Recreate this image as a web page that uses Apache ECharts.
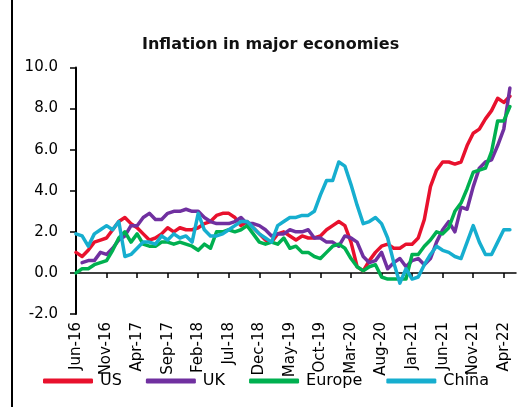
<!DOCTYPE html>
<html>
<head>
<meta charset="utf-8">
<script src="https://cdn.jsdelivr.net/npm/echarts@6/dist/echarts.min.js"></script>
<style>
  html, body { margin: 0; padding: 0; background: #ffffff; }
  #chart { width: 523px; height: 407px; }
</style>
</head>
<body>
<div id="chart"></div>
<script>
// Monthly categories (one spare month at the end so the axis runs slightly past the last point)
const months = [
  'Jun-16','Jul-16','Aug-16','Sep-16','Oct-16','Nov-16','Dec-16',
  'Jan-17','Feb-17','Mar-17','Apr-17','May-17','Jun-17','Jul-17','Aug-17','Sep-17','Oct-17','Nov-17','Dec-17',
  'Jan-18','Feb-18','Mar-18','Apr-18','May-18','Jun-18','Jul-18','Aug-18','Sep-18','Oct-18','Nov-18','Dec-18',
  'Jan-19','Feb-19','Mar-19','Apr-19','May-19','Jun-19','Jul-19','Aug-19','Sep-19','Oct-19','Nov-19','Dec-19',
  'Jan-20','Feb-20','Mar-20','Apr-20','May-20','Jun-20','Jul-20','Aug-20','Sep-20','Oct-20','Nov-20','Dec-20',
  'Jan-21','Feb-21','Mar-21','Apr-21','May-21','Jun-21','Jul-21','Aug-21','Sep-21','Oct-21','Nov-21','Dec-21',
  'Jan-22','Feb-22','Mar-22','Apr-22','May-22','Jun-22'
];

// Consumer price inflation, % y/y
const usInflation = [
  1.0, 0.8, 1.1, 1.5, 1.6, 1.7, 2.1,
  2.5, 2.7, 2.4, 2.2, 1.9, 1.6, 1.7, 1.9, 2.2, 2.0, 2.2, 2.1,
  2.1, 2.2, 2.4, 2.5, 2.8, 2.9, 2.9, 2.7, 2.3, 2.5, 2.2, 1.9,
  1.6, 1.5, 1.9, 2.0, 1.8, 1.6, 1.8, 1.7, 1.7, 1.8, 2.1, 2.3,
  2.5, 2.3, 1.5, 0.3, 0.1, 0.6, 1.0, 1.3, 1.4, 1.2, 1.2, 1.4,
  1.4, 1.7, 2.6, 4.2, 5.0, 5.4, 5.4, 5.3, 5.4, 6.2, 6.8, 7.0,
  7.5, 7.9, 8.5, 8.3, 8.6
];

const ukInflation = [
  null, 0.5, 0.6, 0.6, 1.0, 0.9, 1.2,
  1.6, 1.8, 2.3, 2.3, 2.7, 2.9, 2.6, 2.6, 2.9, 3.0, 3.0, 3.1,
  3.0, 3.0, 2.7, 2.5, 2.4, 2.4, 2.4, 2.5, 2.7, 2.4, 2.4, 2.3,
  2.1, 1.8, 1.9, 1.9, 2.1, 2.0, 2.0, 2.1, 1.7, 1.7, 1.5, 1.5,
  1.3, 1.8, 1.7, 1.5, 0.8, 0.5, 0.6, 1.0, 0.2, 0.5, 0.7, 0.3,
  0.6, 0.7, 0.4, 0.7, 1.5, 2.1, 2.5, 2.0, 3.2, 3.1, 4.2, 5.1,
  5.4, 5.5, 6.2, 7.0, 9.0
];

const europeInflation = [
  0.0, 0.2, 0.2, 0.4, 0.5, 0.6, 1.1,
  1.7, 2.0, 1.5, 1.9, 1.4, 1.3, 1.3, 1.5, 1.5, 1.4, 1.5, 1.4,
  1.3, 1.1, 1.4, 1.2, 2.0, 2.0, 2.1, 2.0, 2.1, 2.3, 1.9, 1.5,
  1.4, 1.5, 1.4, 1.7, 1.2, 1.3, 1.0, 1.0, 0.8, 0.7, 1.0, 1.3,
  1.4, 1.2, 0.7, 0.3, 0.1, 0.3, 0.4, -0.2, -0.3, -0.3, -0.3, -0.3,
  0.9, 0.9, 1.3, 1.6, 2.0, 1.9, 2.2, 3.0, 3.4, 4.1, 4.9, 5.0,
  5.1, 5.9, 7.4, 7.4, 8.1
];

const chinaInflation = [
  1.9, 1.8, 1.3, 1.9, 2.1, 2.3, 2.1,
  2.5, 0.8, 0.9, 1.2, 1.5, 1.5, 1.4, 1.8, 1.6, 1.9, 1.7, 1.8,
  1.5, 2.9, 2.1, 1.8, 1.8, 1.9, 2.1, 2.3, 2.5, 2.5, 2.2, 1.9,
  1.7, 1.5, 2.3, 2.5, 2.7, 2.7, 2.8, 2.8, 3.0, 3.8, 4.5, 4.5,
  5.4, 5.2, 4.3, 3.3, 2.4, 2.5, 2.7, 2.4, 1.7, 0.5, -0.5, 0.2,
  -0.3, -0.2, 0.4, 0.9, 1.3, 1.1, 1.0, 0.8, 0.7, 1.5, 2.3, 1.5,
  0.9, 0.9, 1.5, 2.1, 2.1
];

const seriesNames = ['US', 'UK', 'Europe', 'China'];
const seriesColors = ['#E8112D', '#7030A0', '#00B050', '#16AECF'];
const seriesData = [usInflation, ukInflation, europeInflation, chinaInflation];

const FONT = 'DejaVu Sans';

const chart = echarts.init(document.getElementById('chart'), null, { renderer: 'canvas' });

chart.setOption({
  animation: false,
  backgroundColor: '#ffffff',
  textStyle: { fontFamily: FONT, color: '#000000' },
  title: {
    text: 'Inflation in major economies',
    left: 142,
    top: 37,
    padding: 0,
    textStyle: { fontFamily: FONT, fontSize: 16, fontWeight: 'bold', color: '#111111' }
  },
  legend: {
    data: seriesNames,
    left: 43,
    top: 373,
    icon: 'roundRect',
    itemWidth: 50,
    itemHeight: 5,
    itemGap: 24,
    padding: 0,
    textStyle: { fontFamily: FONT, fontSize: 16, color: '#000000', padding: [0, 0, 0, 2] }
  },
  grid: {
    left: 76,
    right: 7,
    top: 67.5,
    bottom: 93,
    containLabel: false,
    outerBoundsMode: 'none'
  },
  xAxis: {
    type: 'category',
    data: months,
    boundaryGap: false,
    axisLine: { show: true, onZero: true, lineStyle: { color: '#000000', width: 1.5 } },
    axisTick: { show: true, interval: 4, length: 5, lineStyle: { color: '#000000', width: 1.5 } },
    axisLabel: {
      interval: 4,
      rotate: 90,
      margin: 8,
      padding: [8, 0, 0, 0],
      fontFamily: FONT,
      fontSize: 15,
      color: '#000000'
    },
    splitLine: { show: false }
  },
  yAxis: {
    type: 'value',
    min: -2,
    max: 10,
    interval: 2,
    axisLine: { show: true, lineStyle: { color: '#000000', width: 2 } },
    axisTick: { show: true, length: 6, lineStyle: { color: '#000000', width: 1.5 } },
    axisLabel: {
      margin: 18,
      fontFamily: FONT,
      fontSize: 15,
      color: '#000000',
      formatter: v => v.toFixed(1)
    },
    splitLine: { show: false }
  },
  series: seriesNames.map((name, i) => ({
    name: name,
    type: 'line',
    data: seriesData[i],
    showSymbol: false,
    symbol: 'none',
    color: seriesColors[i],
    itemStyle: { color: seriesColors[i] },
    lineStyle: { color: seriesColors[i], width: 3.5, join: 'round', cap: 'round' },
    emphasis: { disabled: true }
  })),
  graphic: [
    {
      type: 'line',
      shape: { x1: 12, y1: 0, x2: 12, y2: 407 },
      style: { stroke: '#000000', lineWidth: 2 },
      silent: true
    }
  ]
});
</script>
</body>
</html>
